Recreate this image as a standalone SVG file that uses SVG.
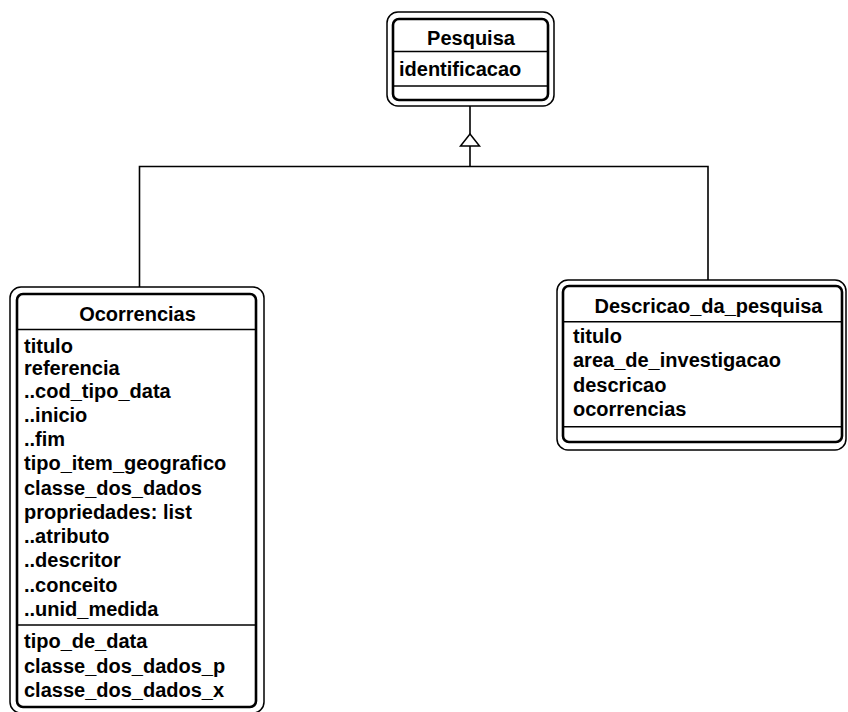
<svg xmlns="http://www.w3.org/2000/svg" width="848" height="712" viewBox="0 0 848 712">
  <style>
    .outer { fill: #ffffff; stroke: #000000; stroke-width: 1.5; }
    .inner { fill: none; stroke: #000000; stroke-width: 2.6; }
    .div { stroke: #000000; stroke-width: 1.5; }
    .conn { fill: none; stroke: #000000; stroke-width: 1.6; }
    .head { fill: #ffffff; stroke: #000000; stroke-width: 1.5; }
    text { font-family: "Liberation Sans", Arial, sans-serif; font-size: 20px; font-weight: bold; fill: #000000; }
    .title { text-anchor: middle; }
  </style>
  <rect width="848" height="712" fill="#ffffff"/>

  <!-- generalization connectors -->
  <g id="connectors">
    <line class="conn" x1="470" y1="106" x2="470" y2="134"/>
    <polyline class="conn" points="470,146 470,166.5"/>
    <polyline class="conn" points="139.5,287 139.5,166.5 708,166.5 708,280"/>
    <polygon class="head" points="470,134 460.5,146 479.5,146"/>
  </g>

  <!-- superclass -->
  <g id="pesquisa">
    <rect class="outer" x="387" y="12" width="167" height="94" rx="11"/>
    <rect class="inner" x="393" y="19" width="155" height="81" rx="6"/>
    <line class="div" x1="393" y1="51.5" x2="548" y2="51.5"/>
    <line class="div" x1="393" y1="86" x2="548" y2="86"/>
    <text class="title" x="471" y="45">Pesquisa</text>
    <text x="399" y="76">identificacao</text>
  </g>

  <g id="ocorrencias">
    <rect class="outer" x="10" y="287" width="254" height="426" rx="11"/>
    <rect class="inner" x="17" y="294" width="239" height="413" rx="6"/>
    <line class="div" x1="17" y1="329.5" x2="256" y2="329.5"/>
    <line class="div" x1="17" y1="625" x2="256" y2="625"/>
    <text class="title" x="137.5" y="321">Ocorrencias</text>
    <text x="24" y="352.7">titulo</text>
    <text x="24" y="375">referencia</text>
    <text x="24" y="398">..cod_tipo_data</text>
    <text x="24" y="421.7">..inicio</text>
    <text x="24" y="446">..fim</text>
    <text x="24" y="470">tipo_item_geografico</text>
    <text x="24" y="495">classe_dos_dados</text>
    <text x="24" y="519">propriedades: list</text>
    <text x="24" y="543">..atributo</text>
    <text x="24" y="567">..descritor</text>
    <text x="24" y="591.7">..conceito</text>
    <text x="24" y="616">..unid_medida</text>
    <text x="24" y="648">tipo_de_data</text>
    <text x="24" y="673">classe_dos_dados_p</text>
    <text x="24" y="697">classe_dos_dados_x</text>
  </g>

  <g id="descricao_da_pesquisa">
    <rect class="outer" x="557" y="280" width="289" height="170" rx="11"/>
    <rect class="inner" x="563" y="286" width="279" height="156" rx="6"/>
    <line class="div" x1="563" y1="321.7" x2="842" y2="321.7"/>
    <line class="div" x1="563" y1="426.7" x2="842" y2="426.7"/>
    <text class="title" x="708.5" y="313">Descricao_da_pesquisa</text>
    <text x="573" y="343">titulo</text>
    <text x="573" y="367">area_de_investigacao</text>
    <text x="573" y="392">descricao</text>
    <text x="573" y="416">ocorrencias</text>
  </g>
</svg>
